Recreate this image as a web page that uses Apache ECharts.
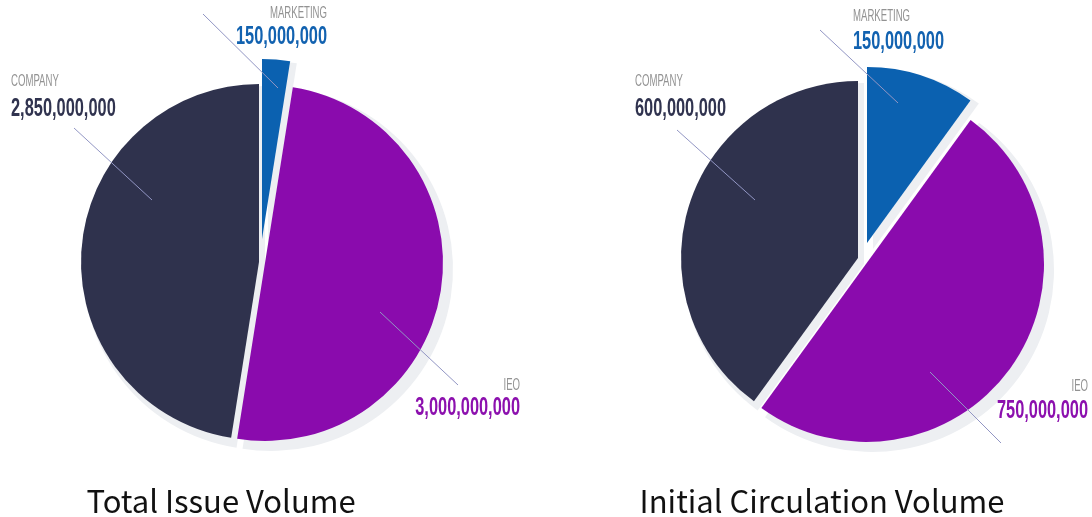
<!DOCTYPE html>
<html><head><meta charset="utf-8">
<script src="https://cdn.jsdelivr.net/npm/echarts@6/dist/echarts.min.js"></script>
<style>html,body{margin:0;padding:0;background:#fff}#c{width:1092px;height:517px}</style>
</head><body><div id="c"></div>
<script>
const categories = ['MARKETING', 'IEO', 'COMPANY'];
const totalIssueValues = [150000000, 3000000000, 2850000000];
const initialCirculationValues = [150000000, 750000000, 600000000];
const chartTitles = ['Total Issue Volume', 'Initial Circulation Volume'];

const sliceColors = ['#0b61b0', '#8a0bad', '#2f324d'];
const valueColors = ['#1262b0', '#8c10ae', '#30334f'];
const nameColor = '#929292';
const shadowColor = '#edeff2';
const leaderColor = '#9296c4';
const labelFont = "'Liberation Sans', Arial, sans-serif";

const charts = [
  { values: totalIssueValues, title: { x: 216, y: 481 },
    slices: [
      { center: [262, 239], r: 180, label: { x: 327, name: 13.5, value: 37, align: 'right' }, line: [[203, 14], [278, 88]] },
      { center: [265, 263], r: 178, label: { x: 520, name: 386, value: 408, align: 'right' }, line: [[380, 312], [458, 385]] },
      { center: [259, 262], r: 178, label: { x: 11, name: 81.5, value: 109, align: 'left' }, line: [[74, 128], [152, 200]] }
    ] },
  { values: initialCirculationValues, title: { x: 817, y: 481 },
    slices: [
      { center: [867, 243], r: 176, label: { x: 853, name: 16.5, value: 42, align: 'left' }, line: [[820, 30], [898, 103]] },
      { center: [866, 264], r: 178, label: { x: 1088, name: 387, value: 411, align: 'right' }, line: [[930, 372], [1001, 443]] },
      { center: [858, 258], r: 177, label: { x: 635, name: 82, value: 108.5, align: 'left' }, line: [[677, 130], [755, 200]] }
    ] }
];

const series = [];
const titles = [];
const graphics = [];
charts.forEach((ch, ci) => {
  titles.push({
    text: chartTitles[ci], left: ch.title.x, top: ch.title.y, textAlign: 'center',
    textStyle: { fontFamily: "'Noto Sans CJK KR','Noto Sans',sans-serif", fontSize: 31, fontWeight: 'normal', color: '#111' }
  });
  ch.slices.forEach((s, k) => {
    // drop shadow of the slice
    series.push({
      type: 'pie', z: 1, silent: true, animation: false,
      center: [s.center[0] + 6, s.center[1] + 6], radius: s.r + 4, startAngle: 90, clockwise: true,
      label: { show: false }, labelLine: { show: false }, emphasis: { disabled: true },
      data: ch.values.map((v, i) => ({ name: categories[i], value: v,
        itemStyle: { color: i === k ? shadowColor : 'rgba(0,0,0,0)' } }))
    });
    // the slice itself (other slices transparent in this series)
    series.push({
      type: 'pie', z: 2, silent: true, animation: false,
      center: s.center, radius: s.r, startAngle: 90, clockwise: true,
      emphasis: { disabled: true }, label: { show: false }, labelLine: { show: false },
      data: ch.values.map((v, i) => ({
        name: categories[i], value: v,
        itemStyle: { color: i === k ? sliceColors[i] : 'rgba(0,0,0,0)' }
      }))
    });
    // leader line and labels
    graphics.push({
      type: 'line', z: 10, silent: true,
      shape: { x1: s.line[0][0], y1: s.line[0][1], x2: s.line[1][0], y2: s.line[1][1] },
      style: { stroke: leaderColor, lineWidth: 1 }
    });
    graphics.push({
      type: 'text', z: 10, silent: true, x: s.label.x, y: s.label.name, scaleX: 0.6,
      style: { text: categories[k], fontFamily: labelFont, fontSize: 16, fill: nameColor,
        align: s.label.align, verticalAlign: 'middle' }
    });
    graphics.push({
      type: 'text', z: 10, silent: true, x: s.label.x, y: s.label.value, scaleX: 0.63,
      style: { text: ch.values[k].toLocaleString('en-US'), fontFamily: labelFont, fontSize: 26, fontWeight: 'bold',
        fill: valueColors[k], align: s.label.align, verticalAlign: 'middle' }
    });
  });
});

const chart = echarts.init(document.getElementById('c'), null, { renderer: 'canvas' });
chart.setOption({ backgroundColor: '#ffffff', animation: false, title: titles, series: series, graphic: graphics });
</script></body></html>
